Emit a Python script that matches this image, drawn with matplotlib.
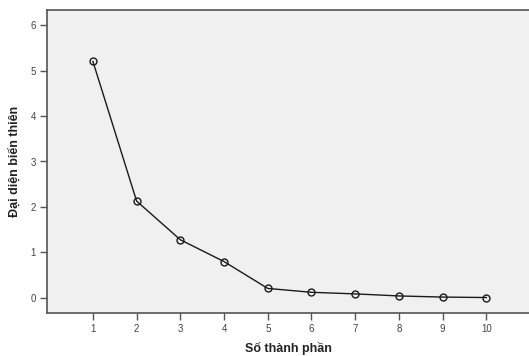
import matplotlib
matplotlib.use("Agg")
import matplotlib.pyplot as plt

components = [1, 2, 3, 4, 5, 6, 7, 8, 9, 10]
eigenvalues = [5.20, 2.13, 1.28, 0.80, 0.21, 0.125, 0.09, 0.045, 0.02, 0.01]
x_label = "Số thành phần"
y_label = "Đại diện biến thiên"

plt.rcParams['font.family'] = ['Liberation Sans', 'DejaVu Sans']

fig = plt.figure(figsize=(5.29, 3.56), dpi=100)
ax = fig.add_axes([47/529, 43/356, 1 - 47/529 + 0.002, (313-10)/356])
ax.set_facecolor('#F0F0F0')

ax.plot(components, eigenvalues, color='#1a1a1a', lw=1.0, marker='o', ms=5,
        mfc='none', mec='#1a1a1a', mew=1.0)

ax.set_xlim(-0.05, 11.0)
ax.set_ylim(-0.33, 6.33)
ax.set_xticks(components)
ax.set_yticks([0, 1, 2, 3, 4, 5, 6])

for s in ['left', 'bottom', 'top']:
    ax.spines[s].set_color('#555555')
    ax.spines[s].set_linewidth(1.2)
ax.spines['right'].set_visible(False)

ax.tick_params(axis='both', direction='out', length=5, width=1, color='#555555',
               labelsize=7, labelcolor='#444444', pad=3)

ax.set_xlabel(x_label, fontsize=9, fontweight='bold', color='#222222', labelpad=6)
ax.set_ylabel(y_label, fontsize=9, fontweight='bold', color='#222222')
ax.yaxis.set_label_coords(-0.054, 0.5)

fig.savefig("out.png", dpi=100)
